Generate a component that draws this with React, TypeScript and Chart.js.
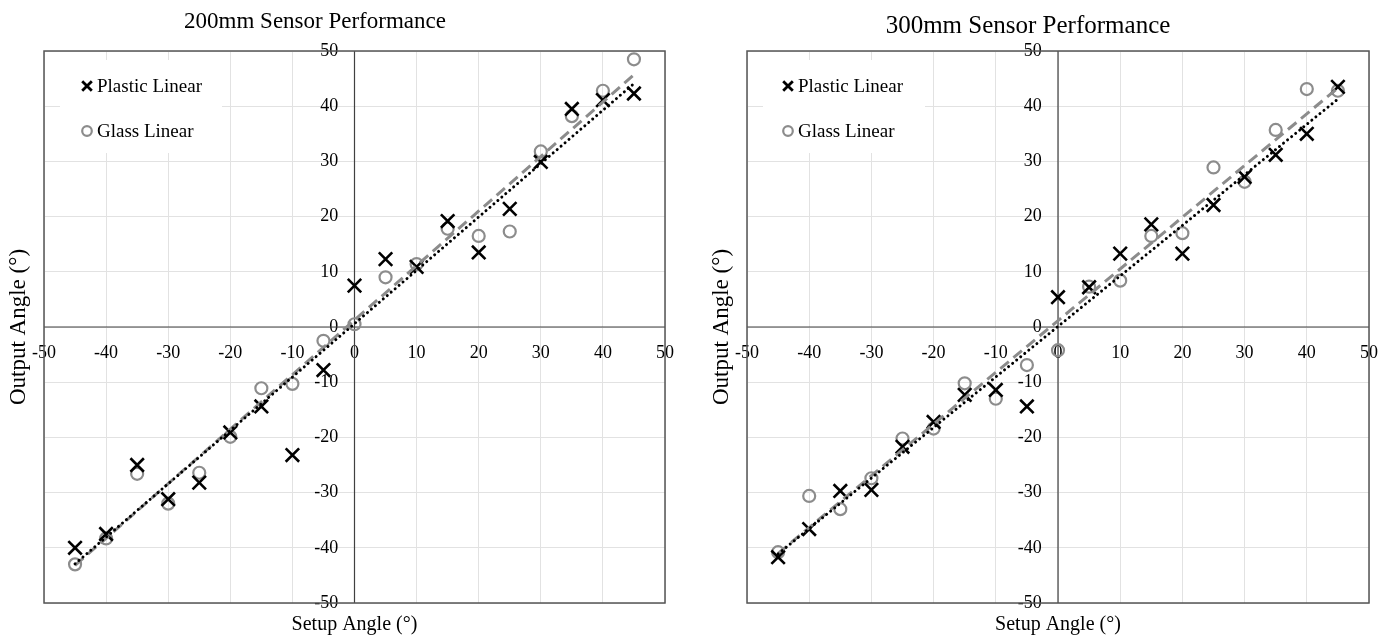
import React, { useEffect, useRef } from 'react';
import { Chart, registerables } from 'chart.js';

Chart.register(...registerables);

// ---- data ----
const setupAngles = [-45, -40, -35, -30, -25, -20, -15, -10, -5, 0, 5, 10, 15, 20, 25, 30, 35, 40, 45];

const plastic200 = [-40, -37.5, -25, -31.2, -28.2, -19.1, -14.4, -23.2, -7.8, 7.5, 12.3, 10.9, 19.2, 13.5, 21.4, 29.9, 39.5, 41.1, 42.3];
const glass200 = [-43, -38.3, -26.6, -32, -26.4, -19.9, -11.1, -10.3, -2.5, 0.5, 9.0, 11.4, 17.8, 16.5, 17.3, 31.8, 38.2, 42.8, 48.5];

const plastic300 = [-41.7, -36.6, -29.7, -29.5, -21.7, -17.2, -12.3, -11.4, -14.4, 5.4, 7.2, 13.3, 18.6, 13.3, 22.1, 27.2, 31.2, 35.0, 43.5];
const glass300 = [-40.8, -30.6, -33.0, -27.4, -20.2, -18.4, -10.2, -13.0, -6.9, -4.2, 7.3, 8.4, 16.5, 17.0, 28.9, 26.3, 35.7, 43.1, 42.8];

// trendline end points
const trendX = [-45, 45];
const plasticTrend200 = [-42.9, 44.1];
const glassTrend200 = [-43.2, 45.7];
const plasticTrend300 = [-41.1, 41.3];
const glassTrend300 = [-41.0, 43.3];

const axisMin = -50;
const axisMax = 50;
const axisStep = 10;

const chartTitles = ['200mm Sensor Performance', '300mm Sensor Performance'];
const xAxisTitle = 'Setup Angle (°)';
const yAxisTitle = 'Output Angle (°)';
const legendLabels = ['Plastic Linear', 'Glass Linear'];

// ---- styles ----
const SERIF = '"Liberation Serif", "Times New Roman", serif';
const PLASTIC_COLOR = '#000000';
const GLASS_COLOR = '#8c8c8c';
const GRID_COLOR = '#e2e2e2';
const AXIS_COLOR = '#404040';

const toPoints = (xs: number[], ys: number[]) => xs.map((x, i) => ({ x, y: ys[i] }));

const decorPlugin = {
  id: 'decor',
  beforeDatasetsDraw(chart: any) {
    const { ctx, chartArea: a } = chart;
    const x0 = chart.scales.x.getPixelForValue(0);
    const y0 = chart.scales.y.getPixelForValue(0);
    ctx.save();
    ctx.strokeStyle = AXIS_COLOR;
    ctx.lineWidth = 1.2;
    ctx.beginPath();
    ctx.moveTo(x0, a.top);
    ctx.lineTo(x0, a.bottom);
    ctx.moveTo(a.left, y0);
    ctx.lineTo(a.right, y0);
    ctx.stroke();
    ctx.restore();
  },
  afterDraw(chart: any, _args: any, opts: any) {
    const { ctx, chartArea: a } = chart;
    ctx.save();
    // plot border
    ctx.strokeStyle = '#555555';
    ctx.lineWidth = 1.5;
    ctx.strokeRect(a.left, a.top, a.right - a.left, a.bottom - a.top);

    // legend box inside plot area
    const lx = a.left + 16;
    const ly = a.top + 9;
    ctx.fillStyle = '#ffffff';
    ctx.fillRect(lx, ly, 162, 93);
    const rows = [a.top + 35, a.top + 80];
    const mx = a.left + opts.legendMarkerDx;
    ctx.font = `19px ${SERIF}`;
    ctx.textBaseline = 'middle';
    ctx.textAlign = 'left';
    // plastic marker (x)
    ctx.strokeStyle = PLASTIC_COLOR;
    ctx.lineWidth = 2.8;
    ctx.beginPath();
    const r = 4.8;
    ctx.moveTo(mx - r, rows[0] - r);
    ctx.lineTo(mx + r, rows[0] + r);
    ctx.moveTo(mx + r, rows[0] - r);
    ctx.lineTo(mx - r, rows[0] + r);
    ctx.stroke();
    // glass marker (o)
    ctx.strokeStyle = GLASS_COLOR;
    ctx.lineWidth = 2.2;
    ctx.beginPath();
    ctx.arc(mx, rows[1], 4.8, 0, Math.PI * 2);
    ctx.stroke();
    ctx.fillStyle = '#000000';
    ctx.fillText(legendLabels[0], mx + 10, rows[0] + 1);
    ctx.fillText(legendLabels[1], mx + 10, rows[1] + 1);

    // chart title
    ctx.textAlign = 'center';
    ctx.font = `${opts.titleSize}px ${SERIF}`;
    ctx.fillText(opts.title, opts.titleX, opts.titleY);

    // x axis title
    ctx.font = `20px ${SERIF}`;
    ctx.fillText(xAxisTitle, (a.left + a.right) / 2, opts.xTitleY);

    // y axis title
    ctx.save();
    ctx.translate(opts.yTitleX, (a.top + a.bottom) / 2);
    ctx.rotate(-Math.PI / 2);
    ctx.font = `23px ${SERIF}`;
    ctx.fillText(yAxisTitle, 0, 0);
    ctx.restore();

    ctx.restore();
  },
};

type Spec = {
  title: string;
  plastic: number[];
  glass: number[];
  plasticTrend: number[];
  glassTrend: number[];
  padding: { left: number; right: number; top: number; bottom: number };
  titleX: number;
  titleY: number;
  titleSize: number;
  yTitleX: number;
  legendMarkerDx: number;
};

function makeConfig(s: Spec): any {
  const tickFont = { family: SERIF, size: 18 };
  return {
    type: 'scatter',
    data: {
      datasets: [
        {
          type: 'line',
          label: 'Plastic trend',
          data: toPoints(trendX, s.plasticTrend),
          borderColor: PLASTIC_COLOR,
          borderWidth: 3,
          borderDash: [0.01, 5.2],
          borderCapStyle: 'round',
          pointRadius: 0,
          fill: false,
        },
        {
          type: 'line',
          label: 'Glass trend',
          data: toPoints(trendX, s.glassTrend),
          borderColor: GLASS_COLOR,
          borderWidth: 3,
          borderDash: [11, 6],
          borderCapStyle: 'butt',
          pointRadius: 0,
          fill: false,
        },
        {
          label: legendLabels[0],
          data: toPoints(setupAngles, s.plastic),
          pointStyle: 'crossRot',
          pointRadius: 9.5,
          borderColor: PLASTIC_COLOR,
          backgroundColor: PLASTIC_COLOR,
          pointBorderWidth: 2.6,
        },
        {
          label: legendLabels[1],
          data: toPoints(setupAngles, s.glass),
          pointStyle: 'circle',
          pointRadius: 6,
          borderColor: GLASS_COLOR,
          backgroundColor: 'rgba(0,0,0,0)',
          pointBorderWidth: 2.2,
        },
      ],
    },
    options: {
      animation: false,
      responsive: false,
      maintainAspectRatio: false,
      devicePixelRatio: 1,
      layout: { padding: s.padding },
      plugins: {
        legend: { display: false },
        title: { display: false },
        tooltip: { enabled: false },
        decor: {
          title: s.title,
          titleX: s.titleX,
          titleY: s.titleY,
          titleSize: s.titleSize,
          xTitleY: 625,
          yTitleX: s.yTitleX,
          legendMarkerDx: s.legendMarkerDx,
        },
      },
      scales: {
        x: {
          type: 'linear',
          min: axisMin,
          max: axisMax,
          // labels sit a little below the zero line (the line itself is drawn by the plugin)
          position: { y: -0.55 },
          border: { display: false },
          grid: { color: GRID_COLOR, lineWidth: 1, drawTicks: false },
          ticks: {
            stepSize: axisStep,
            font: tickFont,
            color: '#000000',
            padding: 12,
            maxRotation: 0,
            autoSkip: false,
          },
        },
        y: {
          type: 'linear',
          min: axisMin,
          max: axisMax,
          // labels sit ~16px left of the zero line (the line itself is drawn by the plugin)
          position: { x: -2.6 },
          border: { display: false },
          grid: { color: GRID_COLOR, lineWidth: 1, drawTicks: false },
          ticks: {
            stepSize: axisStep,
            font: tickFont,
            color: '#000000',
            padding: 16,
            autoSkip: false,
          },
        },
      },
    },
    plugins: [decorPlugin],
  };
}

function ScatterPanel({ spec }: { spec: Spec }) {
  const ref = useRef<HTMLCanvasElement | null>(null);
  useEffect(() => {
    if (!ref.current) return;
    const chart = new Chart(ref.current, makeConfig(spec));
    return () => chart.destroy();
  }, [spec]);
  return (
    <canvas
      ref={ref}
      width={695}
      height={639}
      style={{ display: 'block', width: 695, height: 639 }}
    />
  );
}

const leftSpec: Spec = {
  title: chartTitles[0],
  plastic: plastic200,
  glass: glass200,
  plasticTrend: plasticTrend200,
  glassTrend: glassTrend200,
  padding: { left: 44, right: 30, top: 51, bottom: 36 },
  titleX: 315,
  titleY: 22,
  titleSize: 23,
  yTitleX: 19,
  legendMarkerDx: 43,
};

const rightSpec: Spec = {
  title: chartTitles[1],
  plastic: plastic300,
  glass: glass300,
  plasticTrend: plasticTrend300,
  glassTrend: glassTrend300,
  padding: { left: 52, right: 21, top: 51, bottom: 36 },
  titleX: 333,
  titleY: 26,
  titleSize: 25,
  yTitleX: 27,
  legendMarkerDx: 41,
};

export default function App() {
  return (
    <div
      style={{
        position: 'absolute',
        left: 0,
        top: 0,
        width: 1390,
        height: 639,
        display: 'flex',
        background: '#ffffff',
      }}
    >
      <ScatterPanel spec={leftSpec} />
      <ScatterPanel spec={rightSpec} />
    </div>
  );
}
